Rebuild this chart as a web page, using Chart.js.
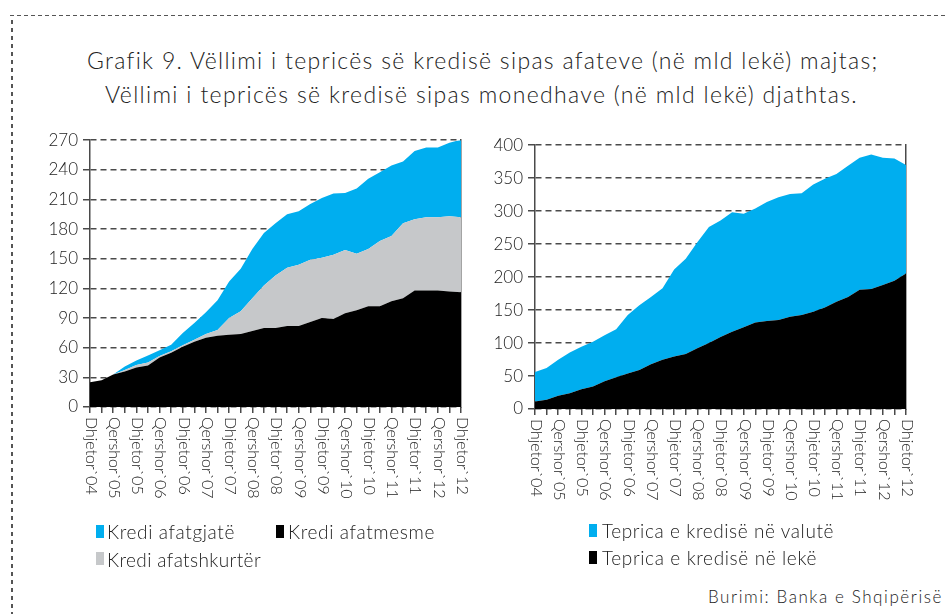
<!DOCTYPE html>
<html>
<head>
<meta charset="utf-8">
<script src="https://cdn.jsdelivr.net/npm/chart.js@4/dist/chart.umd.min.js"></script>
<style>
  body { margin: 0; width: 946px; height: 614px; background: #fff; position: relative; overflow: hidden; font-family: Lato, sans-serif; font-weight: 300; color: #222; }
  .frame-top { position: absolute; left: 10px; top: 15px; width: 936px; height: 1px;
    background: repeating-linear-gradient(to right, #555 0 4px, transparent 4px 7px); }
  .frame-left { position: absolute; left: 11px; top: 20px; width: 1.5px; height: 594px;
    background: repeating-linear-gradient(to bottom, #555 0 4px, transparent 4px 8px); }
  .t { position: absolute; font-size: 23px; white-space: nowrap; line-height: 28px; }
  canvas { position: absolute; }
  .leg { position: absolute; font-size: 19px; line-height: 20px; white-space: nowrap; }
  .sq { position: absolute; width: 8px; height: 13px; }
</style>
</head>
<body>
<div class="frame-top"></div>
<div class="frame-left"></div>
<div class="t" data-fit="791" style="left:87px;top:46px">Grafik 9. Vëllimi i tepricës së kredisë sipas afateve (në mld lekë) majtas;</div>
<div class="t" data-fit="753" style="left:105px;top:80px">Vëllimi i tepricës së kredisë sipas monedhave (në mld lekë) djathtas.</div>

<canvas id="left" width="470" height="390" style="left:0;top:125px"></canvas>
<canvas id="right" width="476" height="390" style="left:470px;top:130px"></canvas>

<div class="sq" style="left:96px;top:525px;background:#00aeef"></div>
<div class="leg" data-fit="128" style="left:107px;top:522px">Kredi afatgjatë</div>
<div class="sq" style="left:276px;top:525px;background:#000"></div>
<div class="leg" data-fit="147" style="left:288px;top:522px">Kredi afatmesme</div>
<div class="sq" style="left:96px;top:552px;background:#c6c8ca"></div>
<div class="leg" data-fit="154" style="left:107px;top:550px">Kredi afatshkurtër</div>
<div class="sq" style="left:589px;top:524px;background:#00aeef"></div>
<div class="leg" data-fit="232" style="left:602px;top:521px">Teprica e kredisë në valutë</div>
<div class="sq" style="left:589px;top:551px;background:#000"></div>
<div class="leg" data-fit="215" style="left:602px;top:548px">Teprica e kredisë në lekë</div>
<div class="leg" data-fit="235" style="left:708px;top:587px;font-size:17px">Burimi: Banka e Shqipërisë</div>

<script>
// quarterly categories, every second one is labelled
const quarters = ['Dhjetor`04','Mars`05','Qershor`05','Shtator`05','Dhjetor`05','Mars`06','Qershor`06','Shtator`06',
  'Dhjetor`06','Mars`07','Qershor`07','Shtator`07','Dhjetor`07','Mars`08','Qershor`08','Shtator`08',
  'Dhjetor`08','Mars`09','Qershor`09','Shtator`09','Dhjetor`09','Mars`10','Qershor`10','Shtator`10',
  'Dhjetor`10','Mars`11','Qershor`11','Shtator`11','Dhjetor`11','Mars`12','Qershor`12','Shtator`12','Dhjetor`12'];

// left: by maturity (bn lek)
const afatmesme = [25,27,33,36,40,42,50,55,61,66,70,72,73,74,77,80,80,82,82,86,90,89,95,98,102,102,107,110,118,118,118,117,116];
const afatshkurter = [0,0,0,1.5,2.5,3,1.5,1.5,1.5,2,4,6,17,23,33,43,53,59,62,63,61,65,64,57,58,66,66,76,72,74,74,76,76];
const afatgjate = [0,0,0,3.5,4.5,7,6,6.5,12.5,17,22,30,37,43,50,53,53,54,54,56.5,60.5,62,57.5,66,71,69.5,71.5,62.5,69,70.5,70.5,74.5,78.5];

// right: by currency (bn lek)
const neLeke = [11.5,14,20,24,30,34,42,48,54,59,68,74.5,79.5,83.5,92,100,109,117,124,131,133.5,135,140,142.5,147.5,154,162.5,170,181,182,188,194.5,205.5];
const neValute = [44.5,48,54.5,61.5,64.5,68,70,73,88.5,98.5,102,108.5,132,144.5,161,176,177,181.5,172,173,180.5,186,186,184.5,193,195,194,199,200,204,193,185.5,164.5];

const CYAN = '#00aeef', GREY = '#c6c8ca', BLACK = '#000000';
const GRID = '#4a4a4a';
const FONT = 'Lato';

// stretch text to the width it has in the reference
document.querySelectorAll('[data-fit]').forEach(el => {
  const target = +el.dataset.fit;
  const w = el.getBoundingClientRect().width;
  el.style.letterSpacing = ((target - w) / el.textContent.length) + 'px';
});

// draws the x labels rotated clockwise, reading downward from each tick
const downLabels = {
  id: 'downLabels',
  afterDraw(chart) {
    const ctx = chart.ctx, x = chart.scales.x, bottom = chart.chartArea.bottom;
    ctx.save();
    ctx.fillStyle = '#222';
    ctx.font = '300 16px ' + FONT;
    ctx.textAlign = 'left';
    ctx.textBaseline = 'middle';
    quarters.forEach((q, i) => {
      if (i % 2) return;
      ctx.save();
      ctx.translate(x.getPixelForValue(i) + 1, bottom + 10);
      ctx.rotate(Math.PI / 2);
      ctx.fillText(q, 0, 0);
      ctx.restore();
    });
    ctx.restore();
  }
};

function area(label, data, color, fill) {
  return { label, data, backgroundColor: color, borderWidth: 0, pointRadius: 0, fill, tension: 0 };
}

function makeChart(id, datasets, max, step, yWidth, xHeight, pad) {
  new Chart(document.getElementById(id), {
    type: 'line',
    data: { labels: quarters, datasets },
    options: {
      responsive: false,
      animation: false,
      layout: { padding: pad },
      plugins: { legend: { display: false }, tooltip: { enabled: false } },
      scales: {
        x: {
          ticks: { display: false },
          grid: { drawOnChartArea: false, drawTicks: true, tickLength: 6, color: GRID, lineWidth: 1.5 },
          border: { display: false },
          afterFit(s) { s.height = xHeight; }
        },
        y: {
          stacked: true,
          min: 0, max,
          ticks: { stepSize: step, color: '#222', font: { family: FONT, size: 17, weight: 300 }, padding: 5 },
          grid: { color: GRID, lineWidth: 1.5, tickLength: 7 },
          border: { display: true, color: GRID, width: 1.5, dash: [6, 4] },
          afterFit(s) { s.width = yWidth; }
        },
        y2: {
          position: 'right',
          min: 0, max: 1,
          ticks: { display: false },
          grid: { display: false },
          border: { display: true, color: GRID, width: 1.5, dash: [6, 4] },
          afterFit(s) { s.width = 0; }
        }
      }
    },
    plugins: [downLabels]
  });
}

makeChart('left', [
  area('Kredi afatmesme', afatmesme, BLACK, 'origin'),
  area('Kredi afatshkurtër', afatshkurter, GREY, '-1'),
  area('Kredi afatgjatë', afatgjate, CYAN, '-1')
], 270, 30, 90, 108, { top: 10, right: 9, left: 0, bottom: 0 });

makeChart('right', [
  area('Teprica e kredisë në lekë', neLeke, BLACK, 'origin'),
  area('Teprica e kredisë në valutë', neValute, CYAN, '-1')
], 400, 50, 65, 111, { top: 15, right: 40, left: 0, bottom: 0 });
</script>
</body>
</html>
